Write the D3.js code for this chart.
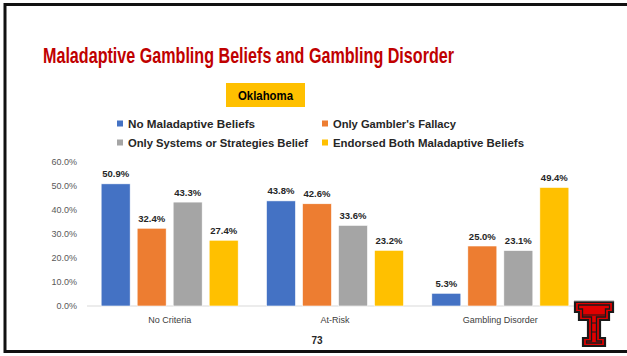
<!DOCTYPE html>
<html>
<head>
<meta charset="utf-8">
<script src="https://cdn.jsdelivr.net/npm/d3@7/dist/d3.min.js"></script>
<style>
  html, body { margin: 0; padding: 0; background: #fff; }
  svg { display: block; }
</style>
</head>
<body>
<svg id="chart" width="627" height="356"></svg>
<script>
// Chart data
const categories = ["No Criteria", "At-Risk", "Gambling Disorder"];
const seriesNames = [
  "No Maladaptive Beliefs",
  "Only Gambler's Fallacy",
  "Only Systems or Strategies Belief",
  "Endorsed Both Maladaptive Beliefs"
];
const noMaladaptive = [50.9, 43.8, 5.3];
const gamblersFallacy = [32.4, 42.6, 25.0];
const systemsBelief = [43.3, 33.6, 23.1];
const endorsedBoth = [27.4, 23.2, 49.4];
const yTicks = [0, 10, 20, 30, 40, 50, 60];
const colors = ["#4472C4", "#ED7D31", "#A5A5A5", "#FFC000"];

const seriesValues = [noMaladaptive, gamblersFallacy, systemsBelief, endorsedBoth];

const svg = d3.select("#chart");

// Slide frame
svg.append("rect")
  .attr("x", 5).attr("y", 4.5)
  .attr("width", 640).attr("height", 347)
  .attr("fill", "none")
  .attr("stroke", "#111")
  .attr("stroke-width", 3);

// Title
svg.append("text")
  .attr("x", 43).attr("y", 63)
  .attr("font-family", "'Liberation Sans Narrow', 'Arial Narrow', 'Liberation Sans', sans-serif")
  .attr("font-weight", "bold")
  .attr("font-size", 22)
  .attr("fill", "#C00000")
  .attr("textLength", 411)
  .attr("lengthAdjust", "spacingAndGlyphs")
  .text("Maladaptive Gambling Beliefs and Gambling Disorder");

// State badge
svg.append("rect")
  .attr("x", 226).attr("y", 83)
  .attr("width", 79).attr("height", 24)
  .attr("fill", "#FFC000");
svg.append("text")
  .attr("x", 265.5).attr("y", 99.5)
  .attr("text-anchor", "middle")
  .attr("font-family", "'Liberation Sans', Arial, sans-serif")
  .attr("font-weight", "bold")
  .attr("font-size", 12.5)
  .attr("fill", "#000")
  .attr("textLength", 55)
  .attr("lengthAdjust", "spacingAndGlyphs")
  .text("Oklahoma");

// Legend
const legendPos = [
  { x: 117, y: 124, w: 127 },
  { x: 322, y: 124, w: 123 },
  { x: 117, y: 143, w: 180 },
  { x: 322, y: 143, w: 191 }
];
const legend = svg.append("g");
seriesNames.forEach((name, i) => {
  const p = legendPos[i];
  legend.append("rect")
    .attr("x", p.x).attr("y", p.y - 3.5)
    .attr("width", 6).attr("height", 6)
    .attr("fill", colors[i]);
  legend.append("text")
    .attr("x", p.x + 11).attr("y", p.y + 3.5)
    .attr("font-family", "'Liberation Sans', Arial, sans-serif")
    .attr("font-weight", "bold")
    .attr("font-size", 10)
    .attr("fill", "#262626")
    .attr("textLength", p.w)
    .attr("lengthAdjust", "spacingAndGlyphs")
    .text(name);
});

// Scales
const x0 = d3.scaleBand()
  .domain(categories)
  .range([87, 583]);
const x1 = d3.scaleBand()
  .domain(d3.range(seriesNames.length))
  .range([0, x0.bandwidth()])
  .paddingInner(7 / 36)
  .paddingOuter(0.393);
const y = d3.scaleLinear()
  .domain([0, 60])
  .range([306, 162]);

// Y axis labels
const yAxis = svg.append("g")
  .attr("transform", "translate(80,0)")
  .call(d3.axisLeft(y).tickValues(yTicks).tickSize(0).tickPadding(3)
    .tickFormat(d => d3.format(".1f")(d) + "%"));
yAxis.select(".domain").remove();
yAxis.selectAll("text")
  .attr("font-family", "'Liberation Sans', Arial, sans-serif")
  .attr("font-size", 9)
  .attr("fill", "#595959");

// Baseline
svg.append("line")
  .attr("x1", 87).attr("x2", 576)
  .attr("y1", y(0)).attr("y2", y(0))
  .attr("stroke", "#D9D9D9")
  .attr("stroke-width", 1);

// Bars and value labels
const groups = svg.append("g").selectAll("g")
  .data(categories)
  .join("g")
  .attr("transform", d => `translate(${x0(d)},0)`);

groups.each(function (cat, ci) {
  const g = d3.select(this);
  seriesValues.forEach((vals, si) => {
    const v = vals[ci];
    g.append("rect")
      .attr("x", x1(si))
      .attr("y", y(v))
      .attr("width", x1.bandwidth())
      .attr("height", y(0) - y(v))
      .attr("fill", colors[si])
      .attr("stroke", "#fff")
      .attr("stroke-width", 0.6);
    g.append("text")
      .attr("x", x1(si) + x1.bandwidth() / 2)
      .attr("y", y(v) - 6.5)
      .attr("text-anchor", "middle")
      .attr("font-family", "'Liberation Sans', Arial, sans-serif")
      .attr("font-weight", "bold")
      .attr("font-size", 9.5)
      .attr("fill", "#262626")
      .text(d3.format(".1f")(v) + "%");
  });
});

// Category labels
const xAxis = svg.append("g")
  .attr("transform", `translate(0,${y(0)})`)
  .call(d3.axisBottom(x0).tickSize(0).tickPadding(11));
xAxis.select(".domain").remove();
xAxis.selectAll("text")
  .attr("font-family", "'Liberation Sans', Arial, sans-serif")
  .attr("font-size", 9)
  .attr("fill", "#404040");

// Slide number
svg.append("text")
  .attr("x", 317).attr("y", 344)
  .attr("text-anchor", "middle")
  .attr("font-family", "'Liberation Sans', Arial, sans-serif")
  .attr("font-weight", "bold")
  .attr("font-size", 10)
  .attr("fill", "#262626")
  .text("73");

// Double-T emblem
const emblem = svg.append("g").attr("transform", "translate(575,302)");
const outline = [
  [0, 0], [38, 0], [38, 10], [34, 10], [34, 18], [25, 18], [25, 36],
  [30, 36], [30, 44], [8, 44], [8, 36], [13, 36], [13, 18], [4, 18],
  [4, 10], [0, 10]
];
const line = d3.line();
emblem.append("path").attr("d", line(outline) + "Z")
  .attr("fill", "#E00000").attr("stroke", "#1a1a1a").attr("stroke-width", 2.2)
  .attr("stroke-linejoin", "miter");
const inner = [
  [3.5, 3], [34.5, 3], [34.5, 7], [30.5, 7], [30.5, 15], [21.5, 15],
  [21.5, 39], [26.5, 39], [26.5, 41], [11.5, 41], [11.5, 39], [16.5, 39],
  [16.5, 15], [7.5, 15], [7.5, 7], [3.5, 7]
];
emblem.append("path").attr("d", line(inner) + "Z")
  .attr("fill", "none").attr("stroke", "#1a1a1a").attr("stroke-width", 1.3);
emblem.append("path").attr("d", "M7,13 L31,13 M17,21 L21,21 M17,30 L21,30")
  .attr("stroke", "#1a1a1a").attr("stroke-width", 1);
emblem.append("path").attr("d", "M-1,-1 L39,-1")
  .attr("stroke", "#9a9a9a").attr("stroke-width", 1);
</script>
</body>
</html>
